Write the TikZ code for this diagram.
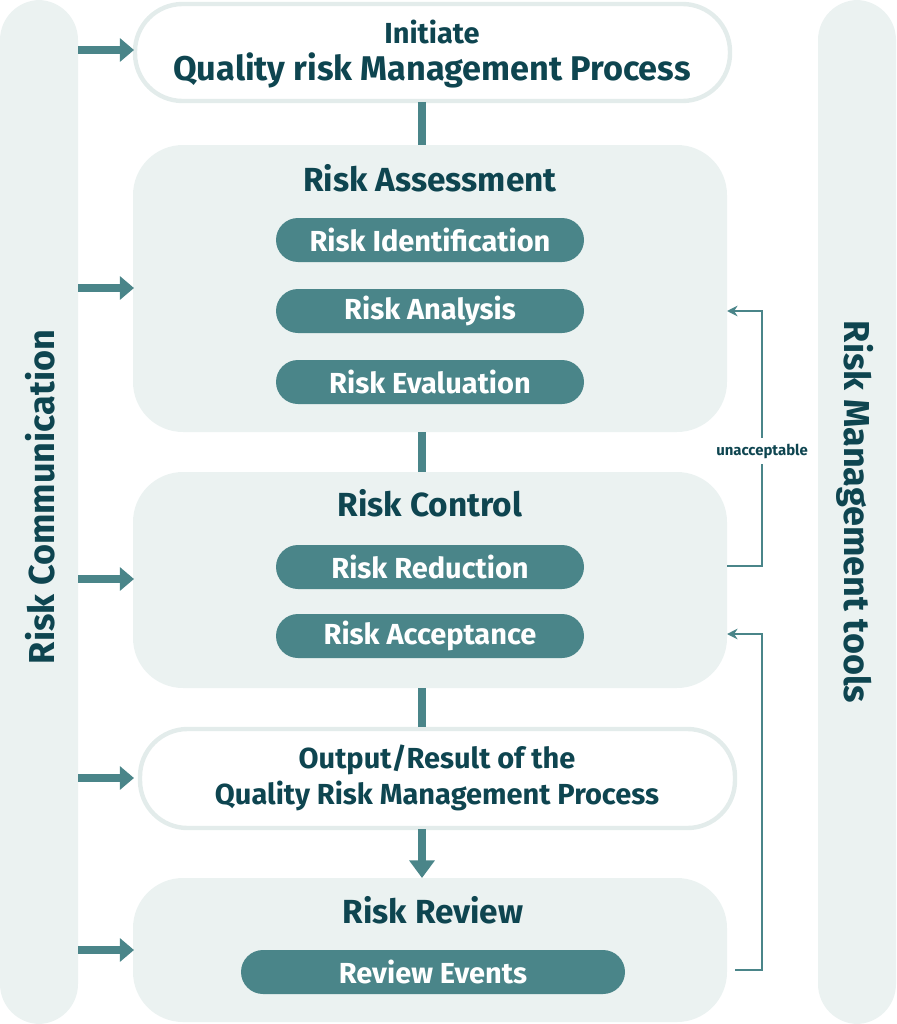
\documentclass[tikz,border=0pt]{standalone}
\usepackage{fontspec}
\setmainfont{Fira Sans}
\usetikzlibrary{arrows.meta, positioning}
\definecolor{pale}{HTML}{EBF2F1}
\definecolor{rim}{HTML}{E3ECEB}
\definecolor{teal}{HTML}{4A8589}
\definecolor{ink}{HTML}{0E4550}
\tikzset{
	bar/.style={fill=pale, rounded corners=0.8cm},
	panel/.style={fill=pale, rounded corners=1cm},
	capsule/.style={draw=rim, line width=2.5pt, fill=white, rounded corners=0.95cm},
	pill/.style={fill=teal, rounded corners=0.44cm, text=white, font=\bfseries\fontsize{16.5}{19}\selectfont},
	head/.style={text=ink, font=\bfseries\fontsize{19}{22}\selectfont},
	side/.style={text=ink, font=\bfseries\fontsize{20.5}{24}\selectfont},
	link/.style={teal, line width=5pt},
	feed/.style={teal, line width=1pt},
}
\begin{document}
\begin{tikzpicture}[x=0.02cm, y=-0.02cm]
	\useasboundingbox (0,0) rectangle (896,1024);
	% side bars
	\fill[bar] (0,0) rectangle (78,1024);
	\fill[bar] (818,0) rectangle (896,1024);
	\node[side, rotate=90] (comm) at (40,497) {Risk Communication};
	\node[side, rotate=-90] (tools) at (855,512) {Risk Management tools};

	% boxes
	\draw[capsule] (135,4) rectangle (730,101);
	\fill[panel] (133,145) rectangle (727,432);
	\fill[panel] (133,472) rectangle (727,688);
	\draw[capsule] (140,729) rectangle (735,828);
	\fill[panel] (133,878) rectangle (727,1022);

	\node[text=ink, font=\bfseries\fontsize{16.5}{19}\selectfont] (t1) at (432,32) {Initiate};
	\node[head, font=\bfseries\fontsize{19.5}{23}\selectfont] (t2) at (432,70) {Quality risk Management Process};
	\node[head] (ra) at (430,178) {Risk Assessment};
	\node[pill, minimum width=308*0.02cm, minimum height=44*0.02cm] (ident) at (430,240) {Risk Identification};
	\node[pill, minimum width=308*0.02cm, minimum height=44*0.02cm] (anal) at (430,311) {Risk Analysis};
	\node[pill, minimum width=308*0.02cm, minimum height=44*0.02cm] (eval) at (430,382) {Risk Evaluation};
	\node[head] (rc) at (430,503) {Risk Control};
	\node[pill, minimum width=308*0.02cm, minimum height=44*0.02cm] (red) at (430,567) {Risk Reduction};
	\node[pill, minimum width=308*0.02cm, minimum height=44*0.02cm] (acc) at (430,636) {Risk Acceptance};
	\node[text=ink, font=\bfseries\fontsize{16.5}{20.5}\selectfont, align=center] (out) at (437,778) {Output/Result of the\\Quality Risk Management Process};
	\node[head] (rr) at (433,910) {Risk Review};
	\node[pill, minimum width=384*0.02cm, minimum height=44*0.02cm] (events) at (433,972) {Review Events};

	% vertical links
	\coordinate (a1) at (422,102); \coordinate (a2) at (422,145);
	\coordinate (b1) at (422,432); \coordinate (b2) at (422,472);
	\coordinate (c1) at (422,688); \coordinate (c2) at (422,727);
	\coordinate (d1) at (422,829); \coordinate (d2) at (422,878);
	\draw[link] (a1) -- (a2);
	\draw[link] (b1) -- (b2);
	\draw[link] (c1) -- (c2);
	\draw[link, -{Triangle[length=10pt, width=14pt]}] (d1) -- (d2);

	% communication arrows
	\foreach \y in {50,288,579,778,950}
		\draw[link, -{Triangle[length=8pt, width=13pt]}] (78,\y) -- (134,\y);

	% feedback
	\coordinate (f1) at (727,566); \coordinate (f2) at (727,311);
	\coordinate (g1) at (735,970); \coordinate (g2) at (727,634);
	\draw[feed, -{Stealth[length=6pt, width=6pt]}] (f1) -- (762,566) -- node[fill=white, text=ink, font=\bfseries\fontsize{8.5}{10}\selectfont, pos=0.45] {unacceptable} (762,311) -- (f2);
	\draw[feed, -{Stealth[length=6pt, width=6pt]}] (g1) -- (762,970) -- (762,634) -- (g2);
\end{tikzpicture}
\end{document}
